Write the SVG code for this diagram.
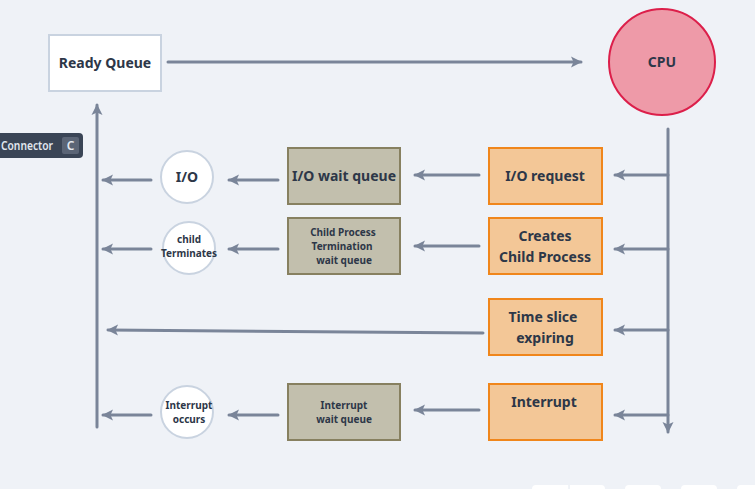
<svg xmlns="http://www.w3.org/2000/svg" width="755" height="489" viewBox="0 0 755 489">
<style>
.t{font-family:"Noto Sans","Liberation Sans",sans-serif;font-weight:bold;fill:#2d3748;text-anchor:middle}
.ln{stroke:#7a8599;stroke-width:3;fill:none;stroke-linecap:round}
.ar{stroke:#7a8599;stroke-width:3;fill:none;stroke-linecap:round;marker-end:url(#ah)}
.org{fill:#f3c797;stroke:#f0861b;stroke-width:2}
.kh{fill:#c2bfad;stroke:#878060;stroke-width:2}
.cir{fill:#ffffff;stroke:#c9d3e0;stroke-width:2}
.tip{font-family:"Noto Sans","Liberation Sans",sans-serif;font-size:12px;font-weight:600;fill:#e2e8f0}
</style>
<defs>
<marker id="ah" markerUnits="userSpaceOnUse" markerWidth="12" markerHeight="12" refX="10" refY="6" orient="auto">
<path d="M0,0.5 L11,6 L0,11.5 L2.5,6 Z" fill="#7a8599"/>
</marker>
</defs>
<rect width="755" height="489" fill="#eff2f7"/>

<g id="connectors">
<line class="ar" x1="168" y1="62" x2="581" y2="62"/>
<line class="ar" x1="668" y1="129" x2="668" y2="432"/>
<line class="ar" x1="668" y1="175" x2="615" y2="175"/>
<line class="ar" x1="668" y1="249" x2="615" y2="249"/>
<line class="ar" x1="668" y1="330" x2="615" y2="330"/>
<line class="ar" x1="668" y1="415" x2="615" y2="415"/>
<line class="ar" x1="479" y1="175" x2="415" y2="175"/>
<line class="ar" x1="479" y1="246" x2="415" y2="246"/>
<line class="ar" x1="483" y1="333" x2="108" y2="330"/>
<line class="ar" x1="479" y1="410" x2="415" y2="410"/>
<line class="ar" x1="278" y1="180" x2="229" y2="180"/>
<line class="ar" x1="278" y1="249" x2="229" y2="249"/>
<line class="ar" x1="278" y1="415" x2="229" y2="415"/>
<line class="ar" x1="151" y1="180" x2="103" y2="180"/>
<line class="ar" x1="151" y1="249" x2="103" y2="249"/>
<line class="ar" x1="151" y1="415" x2="103" y2="415"/>
<line class="ar" x1="97" y1="427" x2="97" y2="105"/>
</g>

<g id="ready-queue">
<rect x="49" y="35" width="112" height="56" fill="#ffffff" stroke="#c9d3e0" stroke-width="2"/>
<text class="t" x="105" y="68" font-size="14">Ready Queue</text>
</g>

<g id="cpu">
<circle cx="662" cy="62" r="53" fill="#ee9aa8" stroke="#dc1f4a" stroke-width="2"/>
<text class="t" x="662" y="67" font-size="14">CPU</text>
</g>

<g id="io-request">
<rect class="org" x="489" y="148" width="113" height="56"/>
<text class="t" x="545" y="181" font-size="14">I/O request</text>
</g>
<g id="creates-child">
<rect class="org" x="489" y="218" width="113" height="56"/>
<text class="t" x="545" y="241" font-size="14">Creates</text>
<text class="t" x="545" y="262" font-size="14">Child Process</text>
</g>
<g id="time-slice">
<rect class="org" x="489" y="299" width="113" height="56"/>
<text class="t" x="543" y="322" font-size="14">Time slice</text>
<text class="t" x="545" y="343" font-size="14">expiring</text>
</g>
<g id="interrupt">
<rect class="org" x="489" y="384" width="113" height="56"/>
<text class="t" x="544" y="407" font-size="14">Interrupt</text>
</g>

<g id="io-wait-queue">
<rect class="kh" x="288" y="148" width="112" height="56"/>
<text class="t" x="344" y="181" font-size="14">I/O wait queue</text>
</g>
<g id="child-wait-queue">
<rect class="kh" x="288" y="218" width="112" height="56"/>
<text class="t" x="343" y="236" font-size="10">Child Process</text>
<text class="t" x="342" y="250" font-size="10">Termination</text>
<text class="t" x="344" y="264" font-size="10">wait queue</text>
</g>
<g id="interrupt-wait-queue">
<rect class="kh" x="288" y="384" width="112" height="56"/>
<text class="t" x="344" y="409" font-size="10">Interrupt</text>
<text class="t" x="344" y="423" font-size="10">wait queue</text>
</g>

<g id="io-circle">
<circle class="cir" cx="187" cy="177" r="26"/>
<text class="t" x="187" y="182" font-size="14">I/O</text>
</g>
<g id="child-terminates">
<circle class="cir" cx="189" cy="248" r="26"/>
<text class="t" x="189" y="243" font-size="10">child</text>
<text class="t" x="189" y="257" font-size="10">Terminates</text>
</g>
<g id="interrupt-occurs">
<circle class="cir" cx="187" cy="412" r="26"/>
<text class="t" x="189" y="409" font-size="10">Interrupt</text>
<text class="t" x="189" y="423" font-size="10">occurs</text>
</g>

<g id="tooltip">
<rect x="-10" y="133" width="93" height="25" rx="4" fill="#3a4556"/>
<text class="tip" x="1" y="150" textLength="52" lengthAdjust="spacingAndGlyphs">Connector</text>
<rect x="62" y="137" width="17" height="17" rx="2" fill="#5b6576"/>
<text class="tip" x="70.5" y="150" text-anchor="middle">C</text>
</g>

<g id="toolbar">
<rect x="532" y="485" width="73" height="12" rx="4" fill="#ffffff"/>
<line x1="569" y1="485" x2="569" y2="489" stroke="#e2e8f0"/>
<rect x="625" y="485" width="36" height="12" rx="4" fill="#ffffff"/>
<rect x="681" y="485" width="36" height="12" rx="4" fill="#ffffff"/>
<rect x="737" y="485" width="30" height="12" rx="4" fill="#ffffff"/>
</g>
</svg>
